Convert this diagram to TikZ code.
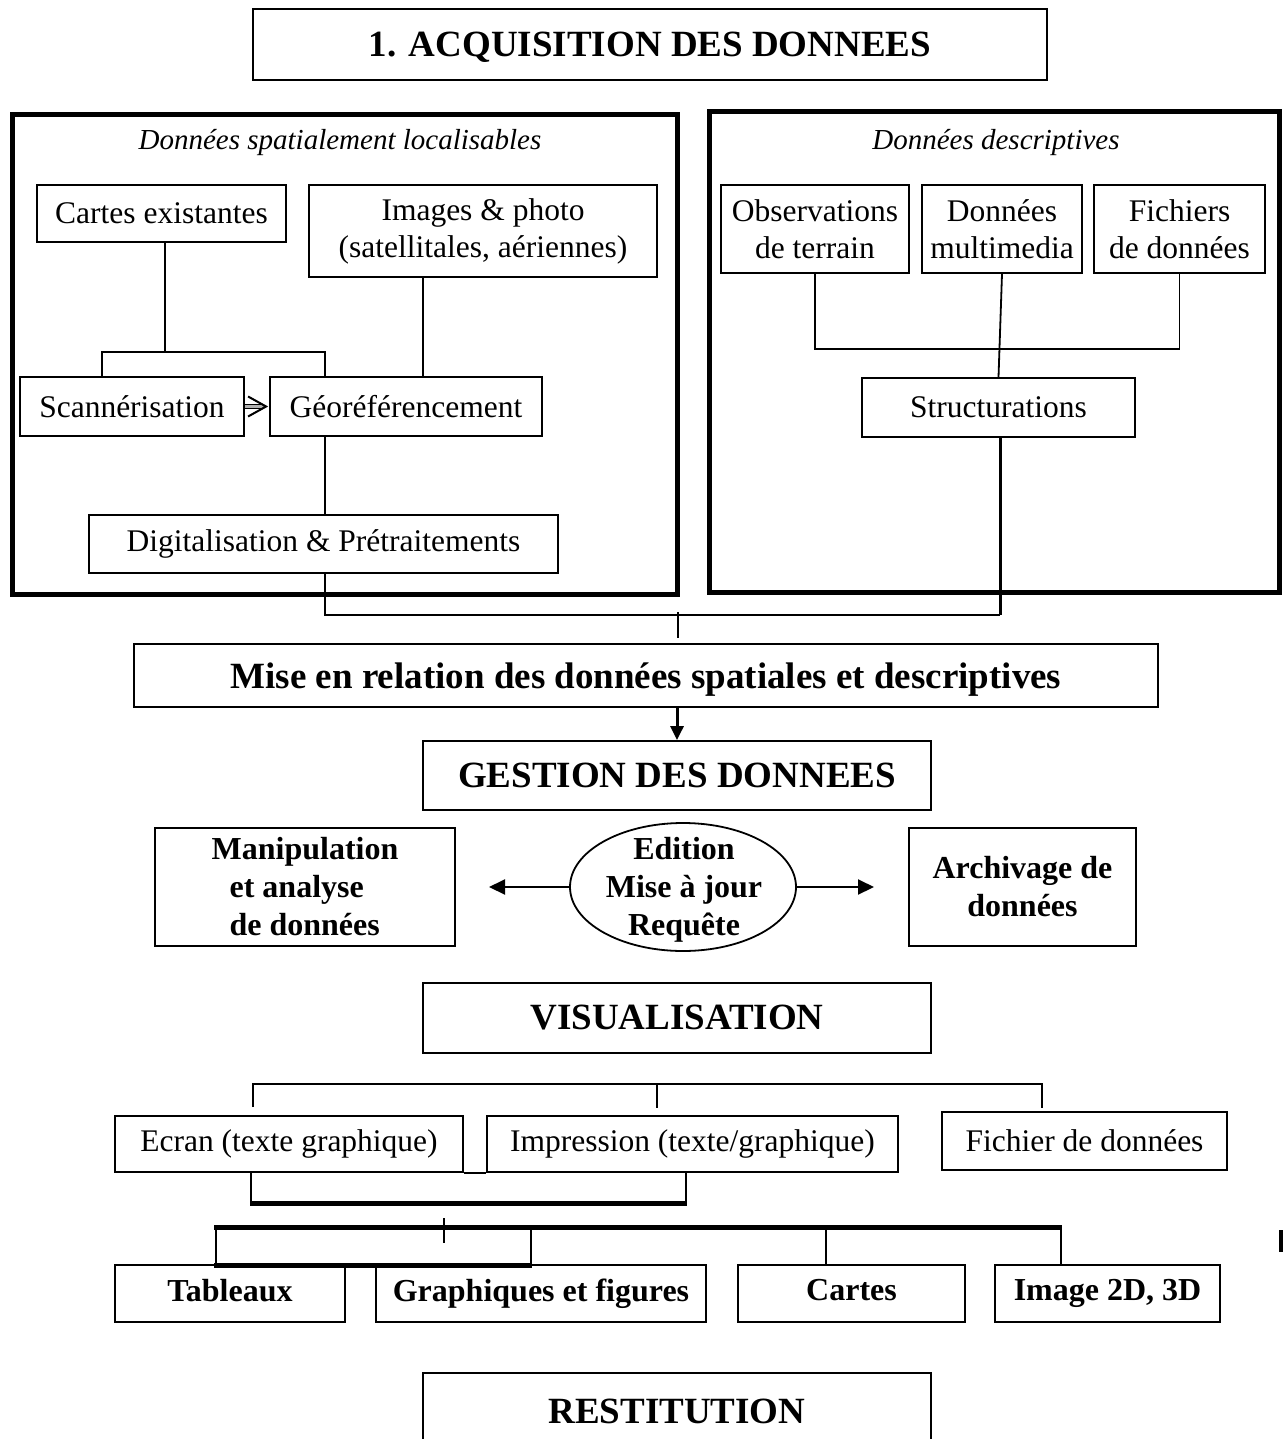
\documentclass[tikz,border=0pt]{standalone}
\usepackage{fontspec}
\setmainfont{Liberation Serif}
\usetikzlibrary{arrows.meta,shapes.geometric,calc}
\newcommand\myreg{\fontsize{31.5}{37}\selectfont}
\newcommand\mybold{\fontsize{32}{38}\selectfont\bfseries}
\newcommand\mybig{\fontsize{37}{44}\selectfont\bfseries}
\newcommand\myital{\fontsize{29}{34}\selectfont\itshape}
\newcommand\lowertext[2]{\raisebox{-#1}[\height][\depth]{#2}}
\begin{document}
\begin{tikzpicture}[x=1pt,y=-1pt,
  box/.style={draw, line width=1.8pt, inner sep=0pt, align=center, font=\myreg},
  bbox/.style={box, font=\mybold},
  bigbox/.style={box, font=\mybig},
  group/.style={draw, line width=5pt, inner sep=0pt},
  link/.style={line width=1.8pt},
  heavy/.style={line width=5pt},
  arr/.style={line width=2pt, -{Triangle[length=16pt,width=15pt]}}
]
\clip (0,0) rectangle (1284,1439);
\fill[white] (0,0) rectangle (1284,1439);

% ---------- Acquisition ----------
\node[bigbox, minimum width=794, minimum height=71] (title) at (650,44.5) {\lowertext{3pt}{1. ACQUISITION DES DONNEES}};

\node[group, minimum width=665, minimum height=479] (grpL) at (344.5,354.5) {};
\node[group, minimum width=570, minimum height=480] (grpR) at (994,352) {};

\node[font=\myital, inner sep=0pt] (lblL) at (340,143) {Données spatialement localisables};
\node[font=\myital, inner sep=0pt] (lblR) at (996,143) {Données descriptives};

\node[box, minimum width=249, minimum height=57] (cartes) at (161.5,213.5) {Cartes existantes};
\node[box, minimum width=348, minimum height=92] (images) at (483,231) {Images \& photo\\(satellitales, aériennes)};
\node[box, minimum width=224, minimum height=59] (scan) at (132,406.5) {Scannérisation};
\node[box, minimum width=272, minimum height=59] (geo) at (406,406.5) {Géoréférencement};
\node[box, minimum width=469, minimum height=58] (digit) at (323.5,544) {Digitalisation \& Prétraitements};

\node[box, minimum width=188, minimum height=88] (obs) at (815,229) {Observations\\de terrain};
\node[box, minimum width=160, minimum height=88] (mm) at (1002,229) {Données\\multimedia};
\node[box, minimum width=171, minimum height=88] (fich) at (1179.5,229) {Fichiers\\de données};
\node[box, minimum width=273, minimum height=59] (struct) at (998.5,407.5) {Structurations};

% connectors left
\coordinate (jl) at (102,352);
\coordinate (jr) at (325,352);
\coordinate (xc) at (165,0);
\coordinate (xi) at (423,0);
\coordinate (xg) at (325,0);
\draw[link] (cartes.south -| xc) -- (xc |- jl);
\draw[link] (scan.north -| jl) -- (jl) -- (jr) -- (geo.north -| jr);
\draw[link] (images.south -| xi) -- (geo.north -| xi);
\draw[link] (geo.south -| xg) -- (digit.north -| xg);
% arrow scan -> geo
\draw[line width=1.1pt, double=gray!60, double distance=2.5pt] (scan.east) -- ($(geo.west)+(-5,0)$);
\draw[line width=2pt] ($(geo.west)+(-21,-10)$) -- ($(geo.west)+(-3,0)$) -- ($(geo.west)+(-21,10)$);

% connectors right
\coordinate (hl) at (815,349);
\draw[link] (obs.south) -- (obs.south |- hl) -- (fich.south |- hl) -- (fich.south);
\draw[link] (mm.south) -- (struct.north);

% joining line
\coordinate (bl) at (325,615);
\coordinate (br) at (1000,615);
\draw[link] (digit.south -| bl) -- (bl) -- (br);
\draw[line width=3pt] (br) -- (struct.south -| br);
\coordinate (tk1) at (678,612);
\coordinate (tk2) at (678,638);
\draw[line width=1.5pt] (tk1) -- (tk2);

\node[bigbox, minimum width=1024, minimum height=63] (mise) at (646,675.5) {\lowertext{4pt}{Mise en relation des données spatiales et descriptives}};

% ---------- Gestion ----------
\node[bigbox, minimum width=508, minimum height=69] (gestion) at (677,775.5) {GESTION DES DONNEES};
\draw[line width=3pt, -{Triangle[length=14pt,width=13pt]}] (mise.south -| gestion.north) -- (gestion.north);

\node[bbox, minimum width=300, minimum height=118, align=left] (manip) at (305,887) {Manipulation\\\hspace*{18pt}et analyse\\\hspace*{18pt}de données};
\node[draw, ellipse, line width=1.8pt, minimum width=226, minimum height=128, inner sep=0pt] (ell) at (683,887) {};
\node[font=\mybold, align=center, inner sep=0pt] (elltxt) at (684,890) {Edition\\Mise à jour\\Requête};
\node[bbox, minimum width=227, minimum height=118] (archiv) at (1022.5,887) {Archivage de\\données};
\coordinate (aL) at (489,887);
\coordinate (aR) at (874,887);
\draw[arr] (ell.west) -- (aL);
\draw[arr] (ell.east) -- (aR);

% ---------- Visualisation ----------
\node[bigbox, minimum width=508, minimum height=70] (visu) at (677,1018) {VISUALISATION};

\coordinate (v1) at (253,1084);
\coordinate (v2) at (657,1084);
\coordinate (v3) at (1042,1084);
\coordinate (v1b) at (253,1107);
\coordinate (v2b) at (657,1108);
\coordinate (v3b) at (1042,1108);
\draw[link] (v1b) -- (v1) -- (v3) -- (v3b);
\draw[link] (v2) -- (v2b);

\node[box, minimum width=348, minimum height=56] (ecran) at (289,1144) {Ecran (texte graphique)};
\node[box, minimum width=411, minimum height=56] (impr) at (692.5,1144) {Impression (texte/graphique)};
\node[box, minimum width=285, minimum height=58] (fichd) at (1084.5,1141) {Fichier de données};
\draw[link] (ecran.south east) -- (impr.south west);

\coordinate (b1) at (251,1203);
\coordinate (b2) at (686,1203);
\draw[link] (ecran.south -| b1) -- (b1);
\draw[link] (b2) -- (impr.south -| b2);
\draw[heavy] ($(b1)+(-1,0)$) -- ($(b2)+(1,0)$);

\coordinate (t1) at (444,1218);
\coordinate (t2) at (444,1243);
\draw[line width=1.2pt] (t1) -- (t2);

\node[bbox, minimum width=230, minimum height=57, text depth=7pt] (tab) at (230,1293.5) {Tableaux};
\node[bbox, minimum width=330, minimum height=57] (graph) at (541,1293.5) {Graphiques et figures};
\node[bbox, minimum width=227, minimum height=57, text depth=7pt] (cartesb) at (851.5,1293.5) {Cartes};
\node[bbox, minimum width=225, minimum height=57] (img) at (1107.5,1293.5) {Image 2D, 3D};

\coordinate (h1) at (216,1227);
\coordinate (h2) at (531,1227);
\coordinate (h3) at (826,1227);
\coordinate (h4) at (1061,1227);
\coordinate (g1) at (216,1265);
\coordinate (g2) at (531,1265);
\draw[heavy] ($(h1)+(-2,0)$) -- ($(h4)+(1,0)$);
\draw[link] (h1) -- (g1);
\draw[link] (h2) -- (g2);
\draw[link] (h3) -- (cartesb.north -| h3);
\draw[link] (h4) -- (img.north -| h4);
\draw[heavy] ($(g1)+(-2,0)$) -- ($(g2)+(1,0)$);

\coordinate (s1) at (1281,1230);
\coordinate (s2) at (1281,1252);
\draw[line width=4pt] (s1) -- (s2);

% ---------- Restitution ----------
\node[bigbox, minimum width=508, minimum height=77] (restit) at (677,1411.5) {RESTITUTION};
\end{tikzpicture}
\end{document}
